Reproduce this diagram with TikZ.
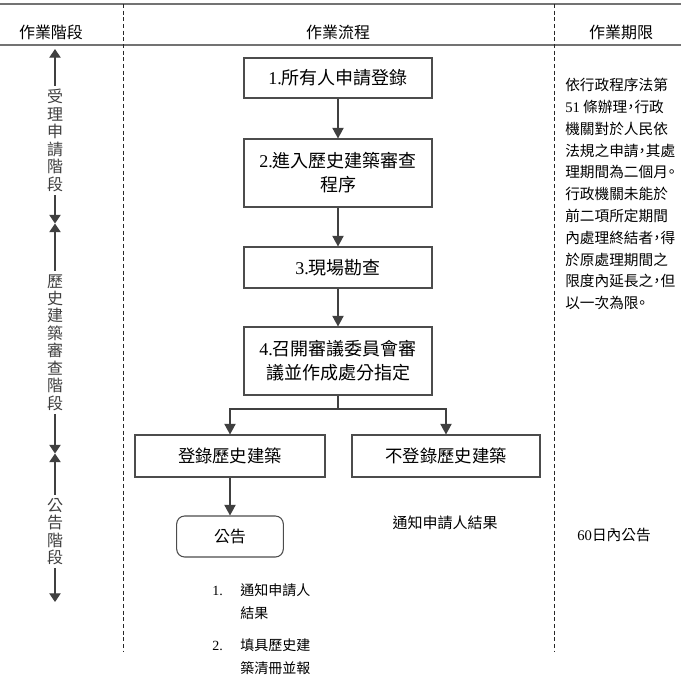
\documentclass[tikz,border=0pt]{standalone}
\usepackage{fontspec}
\setmainfont{Noto Sans CJK TC}
\newfontfamily\romfont{Liberation Serif}
\newfontfamily\notefont[RawFeature=+halt]{Noto Sans CJK TC}
\newcommand\serifnum[1]{{\romfont #1}}
\usetikzlibrary{arrows.meta}
\tikzset{
  rule/.style={black!55,line width=1.5pt},
  colsep/.style={black!85,line width=0.6pt,dash pattern=on 3pt off 2pt},
  head/.style={font=\fontsize{12}{14}\selectfont},
  flowbox/.style={draw=black!70,line width=0.8pt,minimum width=141pt,inner sep=0pt,align=center,font=\fontsize{13.5}{18}\selectfont},
  flowarrow/.style={black!75,line width=0.9pt,-{Triangle[width=8.5pt,length=8pt]}},
  stagearrow/.style={black!75,line width=0.8pt,{Triangle[width=8.5pt,length=6.5pt]}-{Triangle[width=8.5pt,length=6.5pt]}},
  stagetext/.style={fill=white,inner xsep=1pt,inner ysep=2.5pt,align=center,yshift=-3pt,font=\fontsize{12}{13.1}\selectfont}
}
\begin{document}
\begin{tikzpicture}[x=0.75pt,y=-0.75pt]
  \useasboundingbox (0,0) rectangle (681,687);
  \draw[rule] (0,4) -- (681,4);
  \draw[rule] (0,45) -- (681,45);
  \draw[colsep] (123,4) -- (123,652);
  \draw[colsep] (554,4) -- (554,652);
  \node[head] (hstage) at (51,32) {作業階段};
  \node[head] (hflow) at (338,32) {作業流程};
  \node[head] (hterm) at (621,32) {作業期限};

  \coordinate (s0) at (55,49);
  \coordinate (s1) at (55,223.5);
  \coordinate (s2) at (55,453.5);
  \coordinate (s3) at (55,602);
  \draw[stagearrow] (s0) -- node[stagetext] (st1) {受\\理\\申\\請\\階\\段} (s1);
  \draw[stagearrow] (s1) -- node[stagetext] (st2) {歷\\史\\建\\築\\審\\查\\階\\段} (s2);
  \draw[stagearrow] (s2) -- node[stagetext] (st3) {公\\告\\階\\段} (s3);

  \node[flowbox,minimum height=30pt] (b1) at (338,78) {\serifnum{1.}所有人申請登錄};
  \node[flowbox,minimum height=51pt] (b2) at (338,173) {\serifnum{2.}進入歷史建築審查\\程序};
  \node[flowbox,minimum height=30.75pt] (b3) at (338,267.5) {\serifnum{3.}現場勘查};
  \node[flowbox,minimum height=51pt] (b4) at (338,361) {\serifnum{4.}召開審議委員會審\\議並作成處分指定};
  \node[flowbox,minimum width=142.5pt,minimum height=31.5pt,font=\fontsize{13}{16}\selectfont] (b5) at (230,456) {登錄歷史建築};
  \node[flowbox,minimum height=31.5pt,font=\fontsize{13}{16}\selectfont] (b6) at (446,456) {不登錄歷史建築};
  \node[flowbox,rounded corners=6pt,minimum width=80pt,minimum height=30.75pt,font=\fontsize{12}{14}\selectfont] (b7) at (230,536.5) {公告};
  \coordinate (split) at (338,409);
  \draw[flowarrow] (b1) -- (b2);
  \draw[flowarrow] (b2) -- (b3);
  \draw[flowarrow] (b3) -- (b4);
  \draw[flowarrow] (b4.south) -- (split) -| (b5.north);
  \draw[flowarrow] (split) -| (b6.north);
  \draw[flowarrow] (b5) -- (b7);

  \node[font=\fontsize{11.25}{14}\selectfont] (rejectnote) at (445,523) {通知申請人結果};
  \node[anchor=base west,inner sep=0pt,font=\fontsize{10.5}{17.25}\selectfont] (notelist) at (212,595)
    {\begin{tabular}[t]{@{}p{21pt}@{}l@{}}\serifnum{1.} & 通知申請人\\ & 結果\\[6.75pt] \serifnum{2.} & 填具歷史建\\ & 築清冊並報\end{tabular}};

  \node[anchor=north west,align=left,inner sep=0pt,font=\notefont\fontsize{11}{16.35}\selectfont] (termnote) at (565,78)
    {依行政程序法第\\\serifnum{51} 條辦理，行政\\機關對於人民依\\法規之申請，其處\\理期間為二個月。\\行政機關未能於\\前二項所定期間\\內處理終結者，得\\於原處理期間之\\限度內延長之，但\\以一次為限。};
  \node[font=\fontsize{11}{14}\selectfont] (termdays) at (614,535) {\serifnum{60}日內公告};
\end{tikzpicture}
\end{document}
